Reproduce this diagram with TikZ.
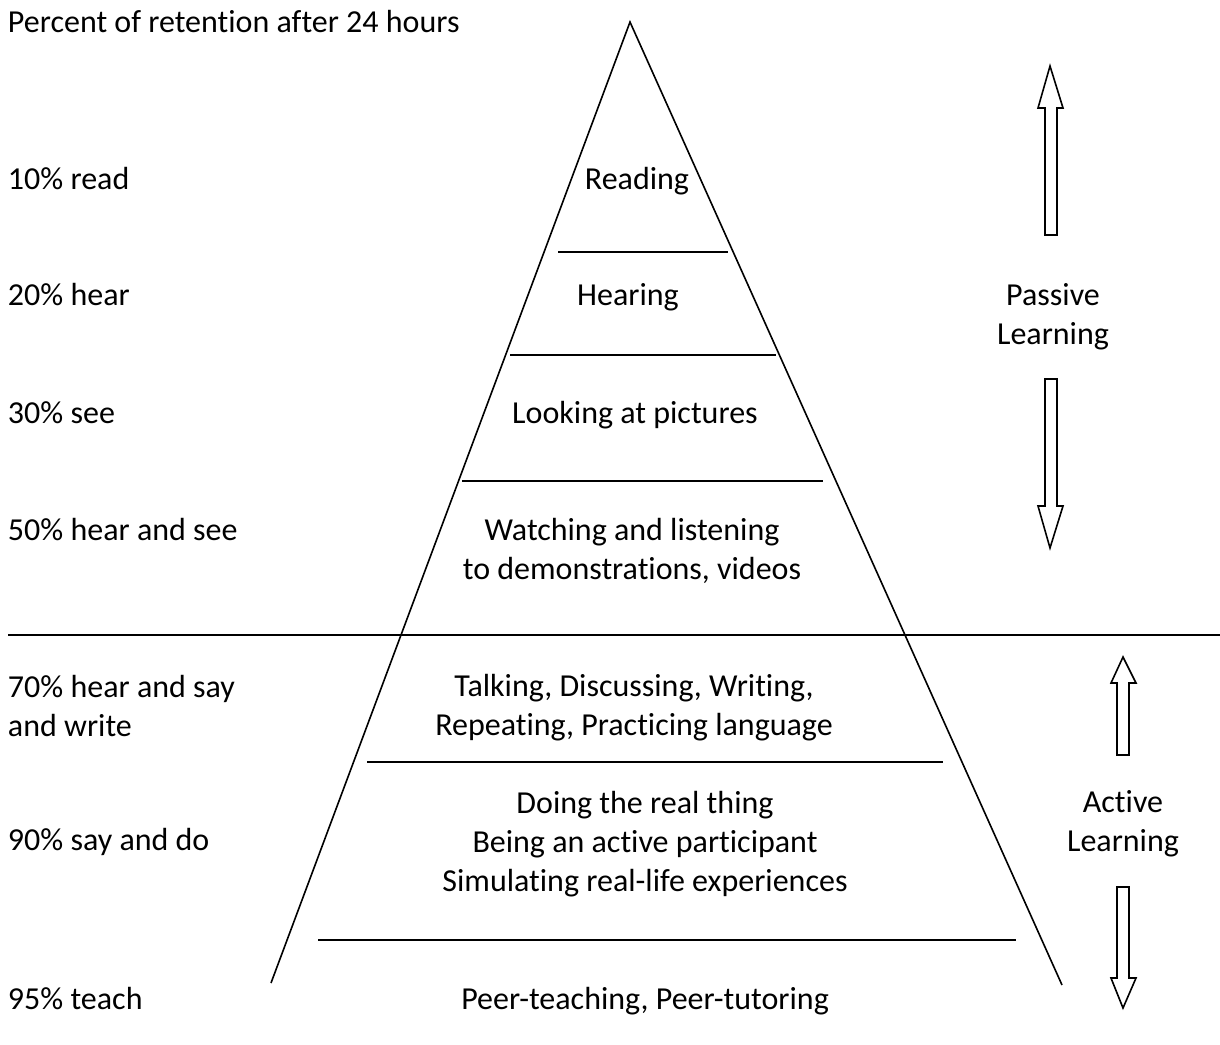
\documentclass[tikz,border=0pt]{standalone}
\usepackage{fontspec}
\setmainfont{Carlito}[Ligatures={NoCommon}]
\begin{document}
\begin{tikzpicture}[x=1pt,y=-1pt,
  every node/.style={inner sep=0pt,outer sep=0pt,font=\fontsize{32}{39}\selectfont},
  lbl/.style={anchor=west,align=left},
  ctr/.style={align=center,yshift=-2pt},
  rule/.style={line width=1.6pt},
  blockarrow/.style={line width=1.6pt,line join=miter,fill=white}]
\useasboundingbox (0,0) rectangle (1220,1044);

% pyramid sides
\coordinate (apex) at (630,22);
\coordinate (baseL) at (271,983);
\coordinate (baseR) at (1062,985);
\draw[rule] (baseL) -- (apex) -- (baseR);

% tier dividers
\draw[rule] (558,252) -- (728,252);
\draw[rule] (510,355) -- (776,355);
\draw[rule] (462,481) -- (823,481);
\draw[rule] (8,635) -- (1220,635);
\draw[rule] (367,762) -- (943,762);
\draw[rule] (318,940) -- (1016,940);

% retention labels
\node[lbl] (title) at (8,22) {Percent of retention after 24 hours};
\node[lbl] (r10) at (8,179) {10\% read};
\node[lbl] (r20) at (8,295) {20\% hear};
\node[lbl] (r30) at (8,413) {30\% see};
\node[lbl] (r50) at (8,530) {50\% hear and see};
\node[lbl] (r70) at (8,706) {70\% hear and say\\and write};
\node[lbl] (r90) at (8,842) {90\% say and do};
\node[lbl] (r95) at (8,999) {95\% teach};

% activities inside the pyramid
\node[ctr] (t1) at (637,179) {Reading};
\node[ctr] (t2) at (628,295) {Hearing};
\node[ctr] (t3) at (635,413) {Looking at pictures};
\node[ctr] (t4) at (632,549) {Watching and listening\\to demonstrations, videos};
\node[ctr] (t5) at (634,706) {Talking, Discussing, Writing,\\Repeating, Practicing language};
\node[ctr] (t6) at (645,842) {Doing the real thing\\Being an active participant\\Simulating real-life experiences};
\node[ctr] (t7) at (645,999) {Peer-teaching, Peer-tutoring};

% side captions
\node[ctr] (passive) at (1053,315) {Passive\\Learning};
\node[ctr] (active) at (1123,822) {Active\\Learning};

% block arrows
\draw[blockarrow] (1045,235) -- (1045,108) -- (1038,108) -- (1050,66) -- (1063,108) -- (1057,108) -- (1057,235) -- cycle;
\draw[blockarrow] (1045,379) -- (1045,506) -- (1038,506) -- (1050,548) -- (1063,506) -- (1057,506) -- (1057,379) -- cycle;
\draw[blockarrow] (1117,755) -- (1117,683) -- (1111,683) -- (1123,657) -- (1136,683) -- (1129,683) -- (1129,755) -- cycle;
\draw[blockarrow] (1117,887) -- (1117,978) -- (1111,978) -- (1123,1008) -- (1136,978) -- (1129,978) -- (1129,887) -- cycle;
\end{tikzpicture}
\end{document}
